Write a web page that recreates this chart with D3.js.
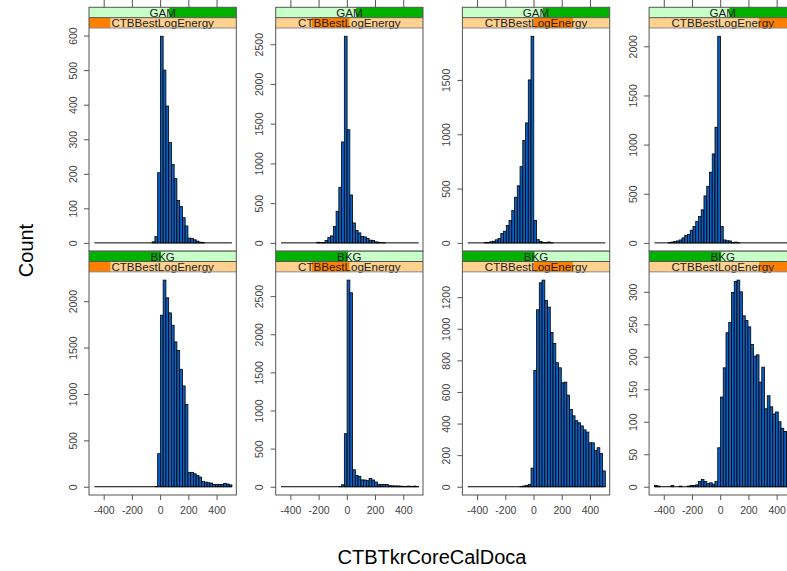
<!DOCTYPE html>
<html>
<head>
<meta charset="utf-8">
<script src="https://cdnjs.cloudflare.com/ajax/libs/d3/7.8.5/d3.min.js"></script>
<style>
    body { margin: 0; background: #fff; }
    svg { display: block; font-family: "Liberation Sans", Arial, sans-serif; }
</style>
</head>
<body>
<svg></svg>
<script>
var width = 787;
var height = 571;

// histogram bins of CTBTkrCoreCalDoca
var breakLow = -466;
var breakHigh = 509;
var nBins = 50;
var xLimits = [-504, 540];
var xTicks = [-400, -200, 0, 200, 400];

// conditioning variables (shaded part of each strip)
var classNames = ["GAM", "BKG"];
var classShade = [[0.545, 1], [0, 0.49]];
var energyName = "CTBBestLogEnergy";
var energyShade = [[0, 0.145], [0.244, 0.5], [0.487, 0.75], [0.747, 1]];

// counts per bin, one array per panel
var gam1 = [0, 0, 0, 0, 0, 0, 0, 0, 0, 0,
    0, 0, 0, 0, 0, 0, 0, 0, 0, 0,
    0, 3, 18, 203, 598, 500, 396, 291, 227, 186,
    123, 105, 73, 49, 14, 13, 9, 5, 2, 1,
    0, 0, 0, 0, 0, 0, 0, 0, 0, 0];
var gam2 = [0, 0, 0, 0, 0, 0, 0, 0, 0, 0,
    0, 0, 0, 8, 3, 5, 30, 67, 88, 205,
    398, 700, 1270, 2600, 1424, 603, 251, 155, 126, 80,
    75, 54, 34, 29, 13, 8, 2, 1, 0, 0,
    0, 0, 0, 0, 0, 0, 0, 0, 0, 0];
var gam3 = [0, 0, 0, 0, 0, 0, 3, 5, 10, 15,
    28, 40, 86, 107, 160, 206, 298, 420, 525, 702,
    942, 1104, 1500, 1902, 206, 30, 12, 5, 3, 8,
    2, 0, 0, 0, 0, 0, 0, 0, 0, 0,
    0, 0, 0, 0, 0, 0, 0, 0, 0, 0];
var gam4 = [0, 0, 0, 0, 0, 3, 8, 15, 20, 30,
    51, 75, 85, 129, 166, 217, 268, 336, 478, 576,
    719, 905, 1176, 2102, 166, 30, 22, 20, 3, 8,
    2, 0, 0, 0, 0, 0, 0, 0, 0, 0,
    0, 0, 0, 0, 0, 0, 0, 0, 0, 0];
var bkg1 = [0, 0, 0, 0, 0, 0, 0, 0, 0, 0,
    0, 0, 0, 0, 0, 0, 0, 0, 0, 0,
    0, 0, 3, 356, 1849, 2227, 2036, 1874, 1741, 1561,
    1468, 1266, 1086, 888, 155, 155, 140, 122, 104, 58,
    50, 43, 40, 25, 25, 25, 25, 36, 29, 20];
var bkg2 = [0, 0, 0, 0, 0, 0, 0, 0, 0, 0,
    0, 0, 0, 0, 0, 0, 0, 0, 0, 0,
    0, 5, 26, 696, 2710, 2544, 223, 149, 136, 90,
    88, 80, 108, 88, 62, 32, 30, 30, 28, 14,
    12, 10, 10, 8, 5, 3, 8, 2, 8, 3];
var bkg3 = [0, 0, 0, 0, 0, 0, 0, 0, 0, 0,
    0, 0, 0, 0, 0, 0, 0, 0, 0, 2,
    5, 8, 15, 118, 736, 1120, 1291, 1308, 1179, 1137,
    977, 907, 785, 753, 658, 662, 580, 489, 449, 418,
    405, 385, 360, 346, 278, 278, 230, 247, 211, 100];
var bkg4 = [2, 1, 0, 0, 0, 0, 2, 0, 0, 1,
    0, 0, 1, 2, 2, 3, 8, 11, 8, 5,
    6, 4, 8, 60, 138, 183, 237, 253, 299, 316,
    318, 300, 263, 256, 246, 219, 201, 203, 161, 184,
    120, 140, 123, 112, 115, 100, 90, 85, 85, 75];

var gamTicks = [[0, 100, 200, 300, 400, 500, 600],
    [0, 500, 1000, 1500, 2000, 2500],
    [0, 500, 1000, 1500],
    [0, 500, 1000, 1500, 2000]];
var bkgTicks = [[0, 500, 1000, 1500, 2000],
    [0, 500, 1000, 1500, 2000, 2500],
    [0, 200, 400, 600, 800, 1000, 1200],
    [0, 50, 100, 150, 200, 250, 300]];

var rowData = [
    {counts: [gam1, gam2, gam3, gam4], ticks: gamTicks},
    {counts: [bkg1, bkg2, bkg3, bkg4], ticks: bkgTicks}
];

var breaks = d3.range(nBins + 1).map(function (i) {
    return breakLow + i * (breakHigh - breakLow) / nBins;
});

var stripH = 10.35;
var barColor = "#0B5FC1";
var lineColor = "#555";
var tickFont = "10.5px";

var svg = d3.select("svg")
    .attr("width", width)
    .attr("height", height);

var colScale = d3.scaleBand()
    .domain([0, 1, 2, 3])
    .range([89, 796.4])
    .paddingInner(0.211);

var rowScale = d3.scaleBand()
    .domain([0, 1])
    .range([7.3, 495]);

function drawStrip(g, x0, w, y0, label, shade, bg, fg) {
    g.append("rect")
        .attr("x", x0).attr("y", y0)
        .attr("width", w).attr("height", stripH)
        .attr("fill", bg);
    g.append("rect")
        .attr("x", x0 + shade[0] * w).attr("y", y0)
        .attr("width", (shade[1] - shade[0]) * w).attr("height", stripH)
        .attr("fill", fg);
    g.append("text")
        .attr("x", x0 + w / 2)
        .attr("y", y0 + stripH - 0.8)
        .attr("text-anchor", "middle")
        .attr("font-size", "11.6px")
        .attr("fill", "#222")
        .text(label);
}

function drawPanel(row, col) {
    var counts = rowData[row].counts[col];
    var ticks = rowData[row].ticks[col];
    var left = colScale(col);
    var w = colScale.bandwidth();
    var top = rowScale(row);
    var panelTop = top + 2 * stripH;
    var panelBottom = top + rowScale.bandwidth();
    var maxCount = d3.max(counts);

    var xScale = d3.scaleLinear()
        .domain(xLimits)
        .range([left, left + w]);

    var yScale = d3.scaleLinear()
        .domain([-0.04 * maxCount, 1.04 * maxCount])
        .range([panelBottom, panelTop]);

    var g = svg.append("g");

    // bars
    var bins = counts.map(function (c, i) {
        return {x0: breaks[i], x1: breaks[i + 1], n: c};
    });
    g.append("line")
        .attr("x1", xScale(breaks[0]))
        .attr("x2", xScale(breaks[nBins]))
        .attr("y1", yScale(0))
        .attr("y2", yScale(0))
        .attr("stroke", "#000")
        .attr("stroke-width", 1);
    g.selectAll("rect.bar")
        .data(bins.filter(function (d) { return d.n > 0; }))
        .enter()
        .append("rect")
        .attr("class", "bar")
        .attr("x", function (d) { return xScale(d.x0); })
        .attr("width", function (d) { return xScale(d.x1) - xScale(d.x0); })
        .attr("y", function (d) { return yScale(d.n); })
        .attr("height", function (d) { return yScale(0) - yScale(d.n); })
        .attr("fill", barColor)
        .attr("stroke", "#000")
        .attr("stroke-width", 0.8);

    // strips: energy shingle next to the panel, class on top
    drawStrip(g, left, w, top, classNames[row], classShade[row], "#C8FFC8", "#00B200");
    drawStrip(g, left, w, top + stripH, energyName, energyShade[col], "#FFD18F", "#FF7F00");

    g.append("line")
        .attr("x1", left).attr("x2", left + w)
        .attr("y1", top + stripH).attr("y2", top + stripH)
        .attr("stroke", lineColor);
    g.append("line")
        .attr("x1", left).attr("x2", left + w)
        .attr("y1", panelTop).attr("y2", panelTop)
        .attr("stroke", "#888");
    g.append("rect")
        .attr("x", left).attr("y", top)
        .attr("width", w).attr("height", panelBottom - top)
        .attr("fill", "none")
        .attr("stroke", lineColor);

    // y axis
    var yAxis = d3.axisLeft(yScale)
        .tickValues(ticks)
        .tickSize(5)
        .tickFormat(function (d) { return String(d); });
    var ya = g.append("g")
        .attr("transform", "translate(" + left + ",0)")
        .call(yAxis);
    ya.select(".domain").remove();
    ya.selectAll("line").attr("stroke", lineColor);
    ya.selectAll("text")
        .attr("transform", "rotate(-90)")
        .attr("x", 0)
        .attr("y", -12.5)
        .attr("dy", 0)
        .attr("text-anchor", "middle")
        .attr("font-size", tickFont)
        .attr("font-family", "Liberation Sans, Arial, sans-serif")
        .attr("fill", "#444");

    // x axis: labels under the bottom row, bare ticks above the top row
    if (row === 1) {
        var xAxis = d3.axisBottom(xScale)
            .tickValues(xTicks)
            .tickSize(5)
            .tickPadding(6.5)
            .tickFormat(function (d) { return String(d); });
        var xa = g.append("g")
            .attr("transform", "translate(0," + panelBottom + ")")
            .call(xAxis);
        xa.select(".domain").remove();
        xa.selectAll("line").attr("stroke", lineColor);
        xa.selectAll("text")
            .attr("font-size", tickFont)
            .attr("font-family", "Liberation Sans, Arial, sans-serif")
            .attr("fill", "#444");
    } else {
        var xTop = d3.axisTop(xScale)
            .tickValues(xTicks)
            .tickSize(7.3)
            .tickFormat("");
        var xt = g.append("g")
            .attr("transform", "translate(0," + top + ")")
            .call(xTop);
        xt.select(".domain").remove();
        xt.selectAll("line").attr("stroke", lineColor);
    }
}

for (var r = 0; r < 2; r++) {
    for (var c = 0; c < 4; c++) {
        drawPanel(r, c);
    }
}

svg.append("text")
    .attr("transform", "translate(33,250.5) rotate(-90)")
    .attr("text-anchor", "middle")
    .attr("font-size", "20px")
    .attr("fill", "#000")
    .text("Count");

svg.append("text")
    .attr("x", 432)
    .attr("y", 564)
    .attr("text-anchor", "middle")
    .attr("font-size", "20px")
    .attr("fill", "#000")
    .text("CTBTkrCoreCalDoca");
</script>
</body>
</html>
